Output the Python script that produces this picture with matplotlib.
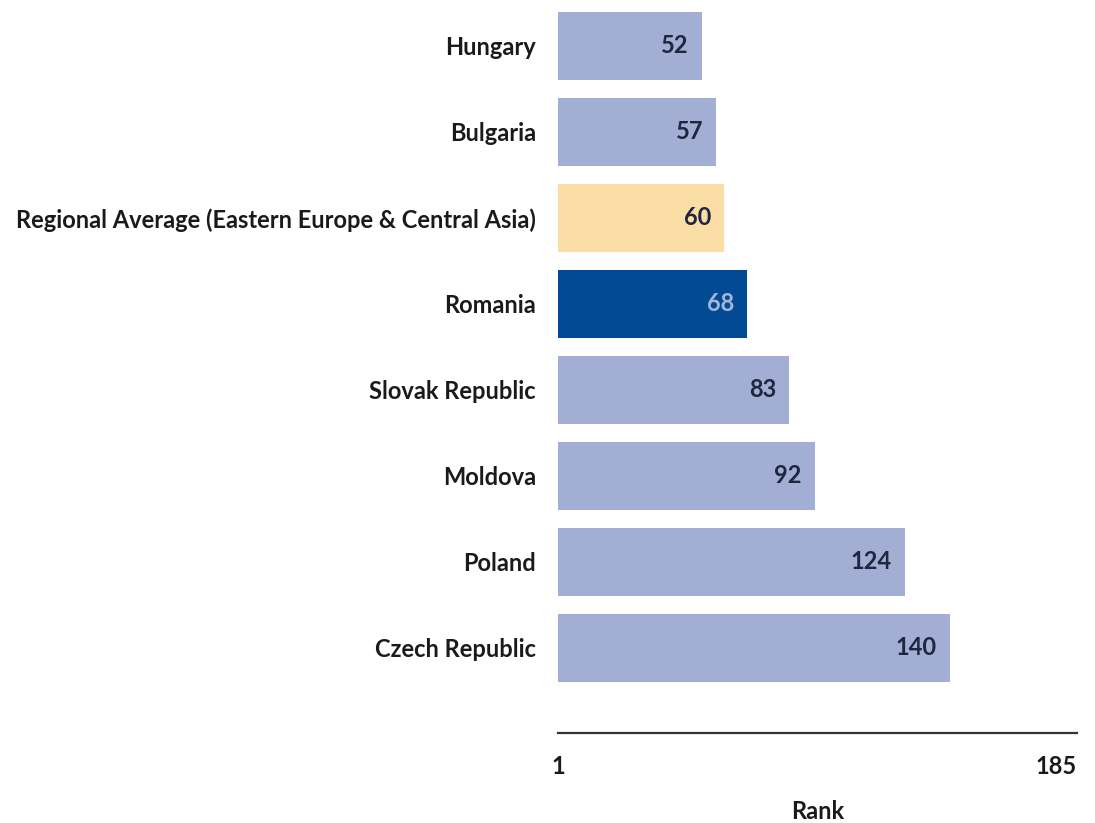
import matplotlib
matplotlib.use("Agg")
import matplotlib.pyplot as plt

# Ease of doing business ranks
countries = ["Hungary", "Bulgaria", "Regional Average (Eastern Europe & Central Asia)",
             "Romania", "Slovak Republic", "Moldova", "Poland", "Czech Republic"]
ranks = [52, 57, 60, 68, 83, 92, 124, 140]
rank_min, rank_max = 1, 185

light = "#A3AED5"
regional = "#FBDDA6"
highlight = "#024B94"
bar_colors = [light, light, regional, highlight, light, light, light, light]
value_colors = ["#1E2640"] * len(ranks)
value_colors[3] = "#A4B3DA"

plt.rcParams["font.family"] = ["Lato", "DejaVu Sans"]
plt.rcParams["font.weight"] = "bold"
FS = 17

W, H = 1095, 823
fig = plt.figure(figsize=(W / 100, H / 100), dpi=100)
ax = fig.add_axes([558 / W, 90 / H, (1077 - 558) / W, 730 / H])

ypos = list(range(len(countries)))
ax.barh(ypos, [r - rank_min for r in ranks], left=rank_min, height=0.79,
        color=bar_colors, edgecolor="none")

ax.set_xlim(rank_min, rank_max)
ax.set_ylim(len(countries) - 1 + 0.994, -0.5)

# rank values inside the bar ends
px_per_unit = (1077 - 558) / (rank_max - rank_min)
for y, r, c in zip(ypos, ranks, value_colors):
    ax.text(r - 13 / px_per_unit, y, str(r), ha="right", va="center",
            fontsize=FS, fontweight="bold", color=c)

ax.set_yticks(ypos)
ax.set_yticklabels(countries, fontsize=FS, fontweight="bold", color="#1A1A1A")
ax.tick_params(axis="y", length=0, pad=16)

ax.set_xticks([rank_min, rank_max])
ax.set_xticklabels([str(rank_min), str(rank_max)], fontsize=FS,
                   fontweight="bold", color="#1A1A1A")
xt = ax.get_xticklabels()
xt[-1].set_horizontalalignment("right")
ax.tick_params(axis="x", length=0, pad=16)
ax.set_xlabel("Rank", fontsize=FS, fontweight="bold", color="#1A1A1A", labelpad=16)

for side in ["top", "right", "left"]:
    ax.spines[side].set_visible(False)
ax.spines["bottom"].set_color("#333333")
ax.spines["bottom"].set_linewidth(1.6)

fig.savefig("out.png", dpi=100, facecolor="white")
